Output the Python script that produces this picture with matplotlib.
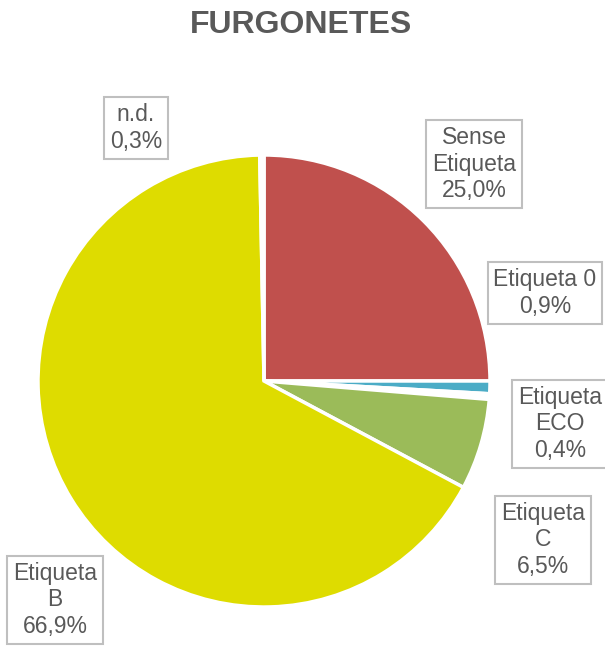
import matplotlib.pyplot as plt

categories = ['Sense\nEtiqueta', 'Etiqueta 0', 'Etiqueta\nECO', 'Etiqueta\nC', 'Etiqueta\nB', 'n.d.']
values = [25.0, 0.9, 0.4, 6.5, 66.9, 0.3]
value_labels = ['25,0%', '0,9%', '0,4%', '6,5%', '66,9%', '0,3%']
colors = ['#C0504D', '#4BACC6', '#FFFFFF', '#9BBB59', '#DEDC00', '#FFFFFF']

# label box centres in pixels (layout only)
label_px = [(474, 164), (545, 293), (560, 424), (543, 540), (55, 600), (136, 128)]

W, H = 605, 650
cx, cy, r = 264, 381, 226

plt.rcParams['font.family'] = ['Liberation Sans', 'DejaVu Sans']
fig = plt.figure(figsize=(W / 100, H / 100), dpi=100)
ax = fig.add_axes([0, 0, 1, 1])

ax.pie(values, colors=colors, startangle=90, counterclock=False, radius=1,
       wedgeprops=dict(edgecolor='white', linewidth=2.5))
ax.set_xlim(-cx / r, (W - cx) / r)
ax.set_ylim(-(H - cy) / r, cy / r)
ax.set_aspect('equal')
ax.axis('off')

for cat, val, (px, py) in zip(categories, value_labels, label_px):
    ax.text((px - cx) / r, (cy - py) / r, f'{cat}\n{val}', ha='center', va='center',
            fontsize=16.5, color='#595959', linespacing=1.2,
            bbox=dict(boxstyle='square,pad=0.25', facecolor='white', edgecolor='#BFBFBF', linewidth=1.5))

fig.text(0.497, 1 - 25 / H, 'FURGONETES', ha='center', va='center',
         fontsize=23, fontweight='bold', color='#595959')

fig.savefig('out.png', dpi=100)
